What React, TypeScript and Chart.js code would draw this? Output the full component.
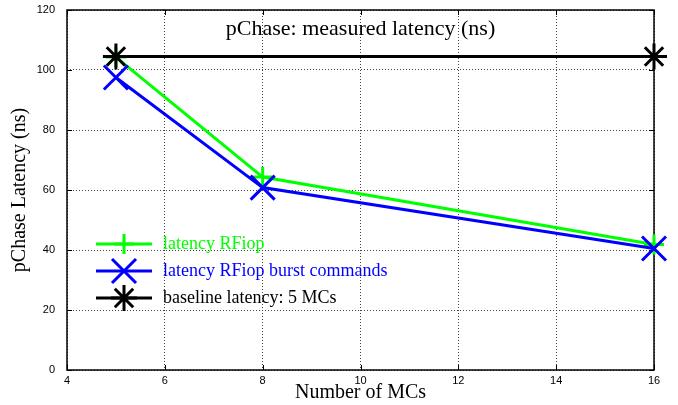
import React, { useEffect, useRef } from "react";
import { Chart, registerables } from "chart.js";

Chart.register(...registerables);

const mcCounts = [5, 8, 16];
const rfiopLatency = [104.3, 64.3, 41.8];
const burstLatency = [97.5, 60.8, 40.5];
const baselineMCs = [5, 16];
const baselineLatency = [104.5, 104.5];
const xTicks = [4, 6, 8, 10, 12, 14, 16];
const yTicks = [0, 20, 40, 60, 80, 100, 120];

const titleText = "pChase: measured latency (ns)";
const xTitle = "Number of MCs";
const yTitle = "pChase Latency (ns)";

const SERIF = "'Liberation Serif', 'Times New Roman', serif";
const SANS = "'Liberation Sans', Arial, sans-serif";

function drawMarker(ctx: CanvasRenderingContext2D, style: string, x: number, y: number, r: number) {
  ctx.beginPath();
  const cross = () => {
    ctx.moveTo(x - r, y);
    ctx.lineTo(x + r, y);
    ctx.moveTo(x, y - r);
    ctx.lineTo(x, y + r);
  };
  const rot = () => {
    const o = r * Math.SQRT1_2;
    ctx.moveTo(x - o, y - o);
    ctx.lineTo(x + o, y + o);
    ctx.moveTo(x - o, y + o);
    ctx.lineTo(x + o, y - o);
  };
  if (style === "cross") cross();
  else if (style === "crossRot") rot();
  else {
    cross();
    rot();
  }
  ctx.stroke();
}

const framePlugin = {
  id: "frame",
  beforeDatasetsDraw(chart: any) {
    const ctx = chart.ctx;
    const area = chart.chartArea;
    const xs = chart.scales.x;
    const ys = chart.scales.y;
    ctx.save();
    ctx.setLineDash([]);
    ctx.strokeStyle = "#000";
    ctx.lineWidth = 1;
    const t = 5;
    ctx.beginPath();
    for (const v of yTicks) {
      const y = Math.round(ys.getPixelForValue(v)) + 0.5;
      ctx.moveTo(area.left, y);
      ctx.lineTo(area.left + t, y);
      ctx.moveTo(area.right, y);
      ctx.lineTo(area.right - t, y);
    }
    for (const v of xTicks) {
      const x = Math.round(xs.getPixelForValue(v)) + 0.5;
      ctx.moveTo(x, area.bottom);
      ctx.lineTo(x, area.bottom - t);
      ctx.moveTo(x, area.top);
      ctx.lineTo(x, area.top + t);
    }
    ctx.stroke();
    ctx.lineWidth = 1.5;
    ctx.strokeRect(area.left, area.top, area.right - area.left, area.bottom - area.top);
    ctx.fillStyle = "#000";
    ctx.font = "11px " + SANS;
    ctx.textAlign = "right";
    ctx.textBaseline = "middle";
    for (const v of yTicks) {
      ctx.fillText(String(v), area.left - 12, ys.getPixelForValue(v));
    }
    ctx.restore();
  },
};

const overlayPlugin = {
  id: "overlay",
  afterDraw(chart: any) {
    const ctx = chart.ctx;
    const area = chart.chartArea;
    ctx.save();
    ctx.setLineDash([]);
    ctx.fillStyle = "#000";
    ctx.font = "22px " + SERIF;
    ctx.textAlign = "center";
    ctx.textBaseline = "alphabetic";
    ctx.fillText(titleText, (area.left + area.right) / 2, 35);
    const rows = [
      { ds: chart.data.datasets[0], y: 244 },
      { ds: chart.data.datasets[1], y: 271 },
      { ds: chart.data.datasets[2], y: 298 },
    ];
    ctx.font = "18px " + SERIF;
    ctx.textAlign = "left";
    ctx.textBaseline = "middle";
    for (const r of rows) {
      const ds = r.ds;
      ctx.strokeStyle = ds.borderColor;
      ctx.lineWidth = 3;
      ctx.beginPath();
      ctx.moveTo(96, r.y);
      ctx.lineTo(152, r.y);
      ctx.stroke();
      ctx.lineWidth = ds.pointBorderWidth;
      drawMarker(ctx, ds.pointStyle, 124, r.y, ds.pointRadius);
      ctx.fillStyle = ds.borderColor;
      ctx.fillText(ds.label, 163, r.y);
    }
    ctx.restore();
  },
};

export default function App() {
  const ref = useRef<HTMLCanvasElement>(null);
  useEffect(() => {
    document.body.style.margin = "0";
    const c = ref.current!;
    const gridOpts = { color: "#444", lineWidth: 1, drawTicks: false };
    const chart = new Chart(c, {
      type: "line",
      data: {
        datasets: [
          {
            label: "latency RFiop",
            data: mcCounts.map((x, i) => ({ x, y: rfiopLatency[i] })),
            borderColor: "#00ff00",
            backgroundColor: "#00ff00",
            borderWidth: 3,
            pointStyle: "cross",
            pointRadius: 10,
            pointBorderWidth: 3,
            pointBorderColor: "#00ff00",
            clip: false,
            order: 2,
          },
          {
            label: "latency RFiop burst commands",
            data: mcCounts.map((x, i) => ({ x, y: burstLatency[i] })),
            borderColor: "#0000ff",
            backgroundColor: "#0000ff",
            borderWidth: 3,
            pointStyle: "crossRot",
            pointRadius: 17,
            pointBorderWidth: 3,
            pointBorderColor: "#0000ff",
            clip: false,
            order: 1,
          },
          {
            label: "baseline latency: 5 MCs",
            data: baselineMCs.map((x, i) => ({ x, y: baselineLatency[i] })),
            borderColor: "#000000",
            backgroundColor: "#000000",
            borderWidth: 3,
            pointStyle: "star",
            pointRadius: 13,
            pointBorderWidth: 3,
            pointBorderColor: "#000000",
            clip: false,
            order: 0,
          },
        ],
      },
      options: {
        animation: false,
        responsive: false,
        layout: { autoPadding: false, padding: { top: 10, right: 24, left: 0, bottom: 0 } },
        plugins: { legend: { display: false }, tooltip: { enabled: false }, title: { display: false } },
        scales: {
          x: {
            type: "linear",
            min: 4,
            max: 16,
            afterBuildTicks: (s: any) => {
              s.ticks = xTicks.map((v) => ({ value: v }));
            },
            afterFit: (s: any) => {
              s.height = 35;
            },
            grid: gridOpts,
            border: { display: false, dash: [1, 2] },
            ticks: {
              color: "#000",
              font: { family: SANS, size: 11 },
              padding: 4,
              maxRotation: 0,
            },
            title: {
              display: true,
              text: xTitle,
              color: "#000",
              font: { family: SERIF, size: 20 },
              padding: { top: -2, bottom: 0 },
            },
          },
          y: {
            type: "linear",
            min: 0,
            max: 120,
            afterBuildTicks: (s: any) => {
              s.ticks = yTicks.map((v) => ({ value: v }));
            },
            afterFit: (s: any) => {
              s.width = 67;
            },
            grid: gridOpts,
            border: { display: false, dash: [1, 2] },
            ticks: { display: false },
            title: {
              display: true,
              text: yTitle,
              color: "#000",
              font: { family: SERIF, size: 20 },
              padding: { top: 8, bottom: 0 },
            },
          },
        },
      },
      plugins: [framePlugin, overlayPlugin],
    } as any);
    return () => chart.destroy();
  }, []);
  return (
    <div style={{ position: "absolute", left: 0, top: 0, width: 678, height: 405 }}>
      <canvas ref={ref} width={678} height={405} style={{ width: 678, height: 405 }} />
    </div>
  );
}
